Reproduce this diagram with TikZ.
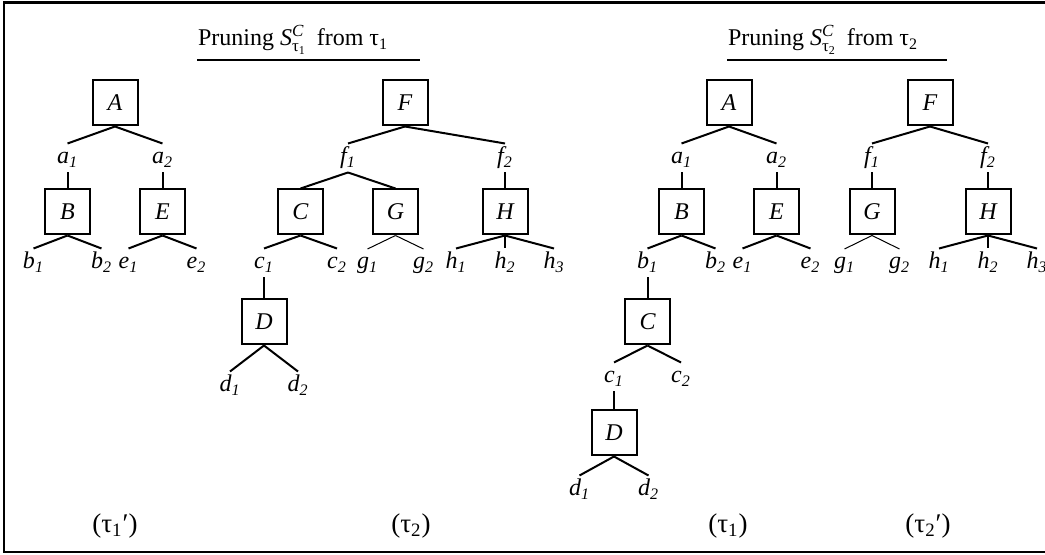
\documentclass[tikz,border=0pt,12pt]{standalone}
\usepackage{fontspec}
\setmainfont{Liberation Serif}
\usepackage{tikz}
\usetikzlibrary{positioning}
\tikzstyle{box} = [draw, line width=1pt, minimum size=22.5pt, inner sep=0pt, font=\itshape]
\tikzstyle{lab} = [inner sep=1.5pt, text height=8pt, text depth=2.5pt, font=\itshape]
\tikzstyle{thinedge} = [line width=0.5pt]
\newcommand{\sublab}[2]{#1\textsubscript{#2}}
\newcommand{\prunedset}[1]{\textit{S}\rlap{\raisebox{4.5pt}{\fontsize{8.5}{9}\selectfont\textit{C}}}\raisebox{-3pt}{\fontsize{8.5}{9}\selectfont τ\raisebox{-1.5pt}{\fontsize{6}{7}\selectfont #1}}}

\begin{document}
\begin{tikzpicture}[
    x = 0.5pt, y = 0.5pt, line width = 1pt,
    grow = down,  % trees hang from the root
    parent anchor = south, child anchor = north,
    level 1/.style = {level distance=27.5pt},
    level 2/.style = {level distance=27pt},
    level 3/.style = {level distance=25.5pt},
    level 4/.style = {level distance=29.5pt},
    level 5/.style = {level distance=27.5pt},
    level 6/.style = {level distance=28pt},
    level 7/.style = {level distance=28.5pt}
  ]
  \useasboundingbox (0,0) rectangle (1045,-555);
  \draw[line width=1.4pt] (1046,-2.5) -- (4,-2.5) -- (4,-552) -- (1046,-552);

  % Titles
  \node[anchor=base west, inner sep=0pt] (title_L) at (197,-46) {Pruning \prunedset{1}\hspace{3pt} from τ\textsubscript{1}};
  \node[anchor=base west, inner sep=0pt] (title_R) at (727,-46) {Pruning \prunedset{2}\hspace{3pt} from τ\textsubscript{2}};
  \draw (197,-60) -- (420,-60);
  \draw (727,-60) -- (947,-60);

  % tau_1'
  \node[box] (A_L) at (115,-103) {A} [sibling distance=47.5pt]
  child { node[lab] (a1_L) {\sublab{a}{1}}
    child { node[box] (B_L) {B} [sibling distance=34pt]
      child { node[lab] (b1_L) {\sublab{b}{1}} }
      child { node[lab] (b2_L) {\sublab{b}{2}} }
    }
  }
  child { node[lab] (a2_L) {\sublab{a}{2}}
    child { node[box] (E_L) {E} [sibling distance=34pt]
      child { node[lab] (e1_L) {\sublab{e}{1}} }
      child { node[lab] (e2_L) {\sublab{e}{2}} }
    }
  };

  % tau_2
  \node[box] (F_L) at (405,-103) {F} [sibling distance=78.5pt]
  child[xshift=10.75pt] { node[lab] (f1_L) {\sublab{f}{1}} [sibling distance=47.5pt]
    child { node[box] (C_L) {C} [sibling distance=36.5pt]
      child { node[lab] (c1_L) {\sublab{c}{1}}
        child { node[box] (D_L) {D} [sibling distance=34pt]
          child[level distance=32pt] { node[lab] (d1_L) {\sublab{d}{1}} }
          child[level distance=32pt] { node[lab] (d2_L) {\sublab{d}{2}} }
        }
      }
      child { node[lab] (c2_L) {\sublab{c}{2}} }
    }
    child { node[box] (G_L) {G} [sibling distance=28pt]
      child[thinedge] { node[lab] (g1_L) {\sublab{g}{1}} }
      child[thinedge] { node[lab] (g2_L) {\sublab{g}{2}} }
    }
  }
  child[xshift=10.75pt] { node[lab] (f2_L) {\sublab{f}{2}}
    child { node[box] (H_L) {H} [sibling distance=24.5pt]
      child { node[lab] (h1_L) {\sublab{h}{1}} }
      child { node[lab] (h2_L) {\sublab{h}{2}} }
      child { node[lab] (h3_L) {\sublab{h}{3}} }
    }
  };

  % tau_1
  \node[box] (A_R) at (729,-103) {A} [sibling distance=47.5pt]
  child { node[lab] (a1_R) {\sublab{a}{1}}
    child { node[box] (B_R) {B} [sibling distance=34pt]
      child { node[lab] (b1_R) {\sublab{b}{1}}
        child { node[box] (C_R) {C} [sibling distance=33.5pt]
          child { node[lab] (c1_R) {\sublab{c}{1}}
            child { node[box] (D_R) {D} [sibling distance=34.5pt]
              child { node[lab] (d1_R) {\sublab{d}{1}} }
              child { node[lab] (d2_R) {\sublab{d}{2}} }
            }
          }
          child { node[lab] (c2_R) {\sublab{c}{2}} }
        }
      }
      child { node[lab] (b2_R) {\sublab{b}{2}} }
    }
  }
  child { node[lab] (a2_R) {\sublab{a}{2}}
    child { node[box] (E_R) {E} [sibling distance=34pt]
      child { node[lab] (e1_R) {\sublab{e}{1}} }
      child { node[lab] (e2_R) {\sublab{e}{2}} }
    }
  };

  % tau_2'
  \node[box] (F_R) at (930,-103) {F} [sibling distance=58pt]
  child { node[lab] (f1_R) {\sublab{f}{1}}
    child { node[box] (G_R) {G} [sibling distance=27.5pt]
      child[thinedge] { node[lab] (g1_R) {\sublab{g}{1}} }
      child[thinedge] { node[lab] (g2_R) {\sublab{g}{2}} }
    }
  }
  child { node[lab] (f2_R) {\sublab{f}{2}}
    child { node[box] (H_R) {H} [sibling distance=24.5pt]
      child { node[lab] (h1_R) {\sublab{h}{1}} }
      child { node[lab] (h2_R) {\sublab{h}{2}} }
      child { node[lab] (h3_R) {\sublab{h}{3}} }
    }
  };

  % Captions
  \begin{scope}[nodes = {font=\fontsize{13.5}{16}\selectfont}]
    \node (cap_t1p) at (115,-526) {(τ\textsubscript{1}′)};
    \node (cap_t2)  at (411,-526) {(τ\textsubscript{2})};
    \node (cap_t1)  at (728,-526) {(τ\textsubscript{1})};
    \node (cap_t2p) at (928,-526) {(τ\textsubscript{2}′)};
  \end{scope}
\end{tikzpicture}
\end{document}
